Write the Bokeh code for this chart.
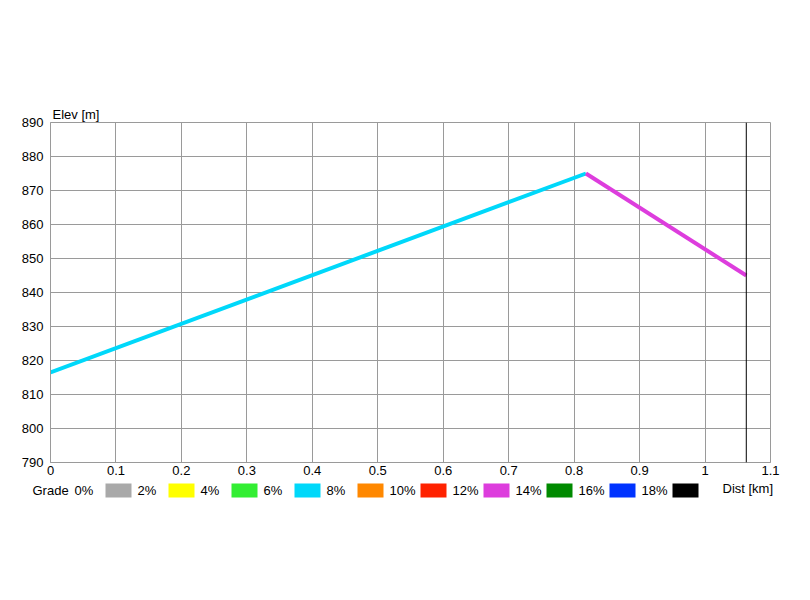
from bokeh.plotting import figure
from bokeh.models import Range1d, FixedTicker, NumeralTickFormatter, Span
from bokeh.core.properties import value
from bokeh.embed import file_html
from bokeh.resources import INLINE

# ---- data ----
dist_km = [0.0, 0.818, 1.063]
elev_m = [816.5, 875.0, 845.0]
route_end_km = 1.063

x_ticks = [0, 0.1, 0.2, 0.3, 0.4, 0.5, 0.6, 0.7, 0.8, 0.9, 1.0, 1.1]
y_ticks = [790, 800, 810, 820, 830, 840, 850, 860, 870, 880, 890]

grade_labels = ["0%", "2%", "4%", "6%", "8%", "10%", "12%", "14%", "16%", "18%"]
grade_mins = [0, 2, 4, 6, 8, 10, 12, 14, 16, 18]
grade_colors = ["#a9a9a9", "#ffff00", "#33ee33", "#00d8fa", "#ff8800",
                "#ff2200", "#dd3ddd", "#008a00", "#0033ff", "#000000"]

FONT = "Liberation Sans"
GRID = "#9a9a9a"

# segment colours from grade bins
x0s, y0s, x1s, y1s, cols = [], [], [], [], []
for i in range(len(dist_km) - 1):
    g = abs(elev_m[i + 1] - elev_m[i]) / ((dist_km[i + 1] - dist_km[i]) * 1000) * 100
    idx = 0
    for k, gm in enumerate(grade_mins):
        if g >= gm:
            idx = k
    x0s.append(dist_km[i]); y0s.append(elev_m[i])
    x1s.append(dist_km[i + 1]); y1s.append(elev_m[i + 1])
    cols.append(grade_colors[idx])

p = figure(width=810, height=480, output_backend="svg", toolbar_location=None,
           x_range=Range1d(0, 1.1), y_range=Range1d(790, 890),
           min_border_left=50, min_border_right=40, min_border_top=122, min_border_bottom=18)
p.outline_line_color = GRID
p.outline_line_width = 1
p.background_fill_color = "white"
p.border_fill_color = "white"

p.title.text = "Elev [m]"
p.title.align = "left"
p.title.text_font = FONT
p.title.text_font_size = "13px"
p.title.text_font_style = "normal"
p.title.text_color = "black"
p.title.offset = 2
p.title.standoff = 2

for ax in (p.xaxis[0], p.yaxis[0]):
    ax.axis_line_color = GRID
    ax.major_tick_line_color = None
    ax.minor_tick_line_color = None
    ax.major_tick_out = 0
    ax.major_tick_in = 0
    ax.minor_tick_out = 0
    ax.minor_tick_in = 0
    ax.major_label_text_font = FONT
    ax.major_label_text_font_size = "13px"
    ax.major_label_text_color = "black"

p.xaxis.ticker = FixedTicker(ticks=x_ticks)
p.yaxis.ticker = FixedTicker(ticks=y_ticks)
p.xaxis.formatter = NumeralTickFormatter(format="0.[0]")
p.xaxis.major_label_standoff = 3
p.xaxis.major_label_text_align = "left"
p.yaxis.major_label_standoff = 7

p.xgrid.ticker = FixedTicker(ticks=x_ticks)
p.ygrid.ticker = FixedTicker(ticks=y_ticks)
p.grid.grid_line_color = GRID
p.grid.grid_line_width = 1

p.segment(x0=x0s, y0=y0s, x1=x1s, y1=y1s, line_color=cols, line_width=4)
p.add_layout(Span(location=route_end_km, dimension="height", line_color="black", line_width=1))

# ---- legend strip ----
lg = figure(width=810, height=40, output_backend="svg", toolbar_location=None,
            x_range=Range1d(0, 810), y_range=Range1d(40, 0),
            min_border=0, min_border_left=0, min_border_right=0,
            min_border_top=0, min_border_bottom=0)
lg.axis.visible = False
lg.grid.visible = False
lg.outline_line_color = None

n = len(grade_labels)
sw_left = [105 + 63 * i for i in range(n)]
lg.quad(left=sw_left, right=[s + 26 for s in sw_left], top=[3] * n, bottom=[17] * n,
        fill_color=grade_colors, line_color=None)
lg.text(x=[s - 31 for s in sw_left], y=[10] * n, text=grade_labels,
        text_font=value(FONT), text_font_size="13px", text_baseline="middle",
        text_align="left", text_color="black")
lg.text(x=[32], y=[10], text=["Grade"], text_font=value(FONT), text_font_size="13px",
        text_baseline="middle", text_align="left", text_color="black")
lg.text(x=[722], y=[8], text=["Dist [km]"], text_font=value(FONT), text_font_size="13px",
        text_baseline="middle", text_align="left", text_color="black")

open("out.html", "w").write(file_html([p, lg], INLINE))
